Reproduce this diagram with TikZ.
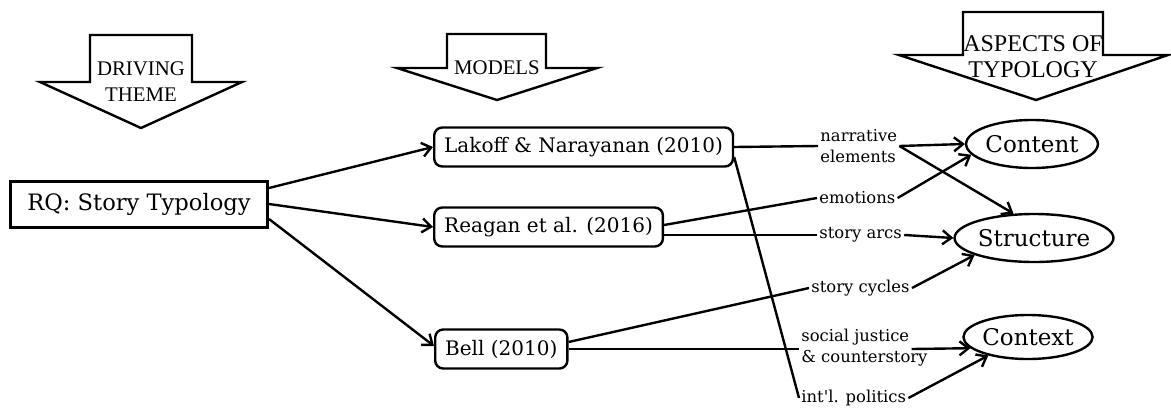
\documentclass[tikz,border=0pt]{standalone}
\usepackage{fontspec}
\setmainfont{DejaVu Serif}
\newfontfamily\headfont{Liberation Serif}
\usetikzlibrary{shapes.geometric,arrows.meta}

\tikzset{
  banner/.style={draw, line width=1.2pt, fill=white, line join=miter},
  bannertext/.style={font=\headfont\fontsize{10.4}{13}\selectfont, align=center, inner sep=0pt},
  model/.style={draw, line width=1.2pt, rounded corners=4pt, anchor=west, inner xsep=5pt,
    minimum height=19.5pt, font=\fontsize{10}{12}\selectfont},
  aspect/.style={draw, ellipse, line width=1.2pt, inner sep=0pt, font=\fontsize{11.5}{13}\selectfont},
  tag/.style={anchor=west, inner sep=1pt, align=left, font=\fontsize{8.2}{10.5}\selectfont},
  link/.style={line width=1.2pt},
  flow/.style={line width=1.2pt, -{Straight Barb[length=4.5pt,width=7pt]}}
}

\begin{document}
\begin{tikzpicture}[x=0.5pt, y=-0.5pt]
  \useasboundingbox (0,0) rectangle (1171,408);

  % Draw the three banner arrows along the top
  \draw[banner] (90,35) -- (192,35) -- (192,82) -- (242,82) -- (141,128) -- (40,82) -- (90,82) -- cycle;
  \draw[banner] (447,34) -- (546,34) -- (546,68) -- (597,68) -- (497,100) -- (397,68) -- (447,68) -- cycle;
  \draw[banner] (963,12) -- (1103,12) -- (1103,55) -- (1168,55) -- (1036,100) -- (899,55) -- (963,55) -- cycle;

  \node[bannertext] (theme) at (141,82) {DRIVING\\THEME};
  \node[bannertext] (models) at (497,68) {MODELS};
  \node[bannertext, font=\headfont\fontsize{12}{13}\selectfont] (aspects) at (1033,57) {ASPECTS OF\\TYPOLOGY};

  % Question and the three models
  \node[draw, line width=1.5pt, minimum width=128.5pt, minimum height=23pt,
    font=\fontsize{11.3}{13}\selectfont] (rq) at (139,204) {RQ: Story Typology};
  \node[model] (lakoff) at (433,147) {Lakoff \& Narayanan (2010)};
  \node[model] (reagan) at (433,227) {Reagan et al. (2016)};
  \node[model] (bell) at (434,349) {Bell (2010)};

  % Aspects on the right
  \node[aspect, minimum width=58.5pt, minimum height=24pt] (content) at (1032,144) {Content};
  \node[aspect, minimum width=67.5pt, minimum height=24pt] (structure) at (1034,238) {Structure};
  \node[aspect, minimum width=59.5pt, minimum height=22pt] (context) at (1028,337) {Context};

  % Labels in between
  \node[tag] (narrative) at (818,146) {narrative\\elements};
  \node[tag] (emotions) at (817,198) {emotions};
  \node[tag] (arcs) at (817,235) {story arcs};
  \node[tag] (cycles) at (809,288) {story cycles};
  \node[tag] (justice) at (799,337) {social justice};
  \node[tag] (counter) at (799,358) {\& counterstory};
  \node[tag] (politics) at (799,398) {int\textquotesingle l. politics};

  % Question to models
  \draw[flow] ([yshift=8pt]rq.east) -- (lakoff.west);
  \draw[flow] (rq.east) -- (reagan.west);
  \draw[flow] ([yshift=-7.5pt]rq.east) -- ([yshift=1.5pt]bell.west);

  % Models to aspects
  \draw[link] (lakoff.east) -- (narrative.west);
  \draw[flow] (narrative.east) -- (content.west);
  \draw[flow] (narrative.east) -- (structure.130);
  \draw[link] ([yshift=-5pt]lakoff.east) -- (politics.west);
  \draw[link] ([yshift=1pt]reagan.east) -- (emotions.west);
  \draw[flow] (emotions.east) -- (content.190);
  \draw[link] ([yshift=-4pt]reagan.east) -- (arcs.west);
  \draw[flow] (arcs.east) -- (structure.west);
  \draw[link] ([yshift=3.5pt]bell.east) -- (cycles.west);
  \draw[flow] (cycles.east) -- (structure.196);
  \draw[link] (bell.east) -- (bell.east -| justice.west);
  \draw[flow] (bell.east -| justice.east) -- (context.191);
  \draw[flow] (politics.east) -- (context.205);
\end{tikzpicture}
\end{document}
